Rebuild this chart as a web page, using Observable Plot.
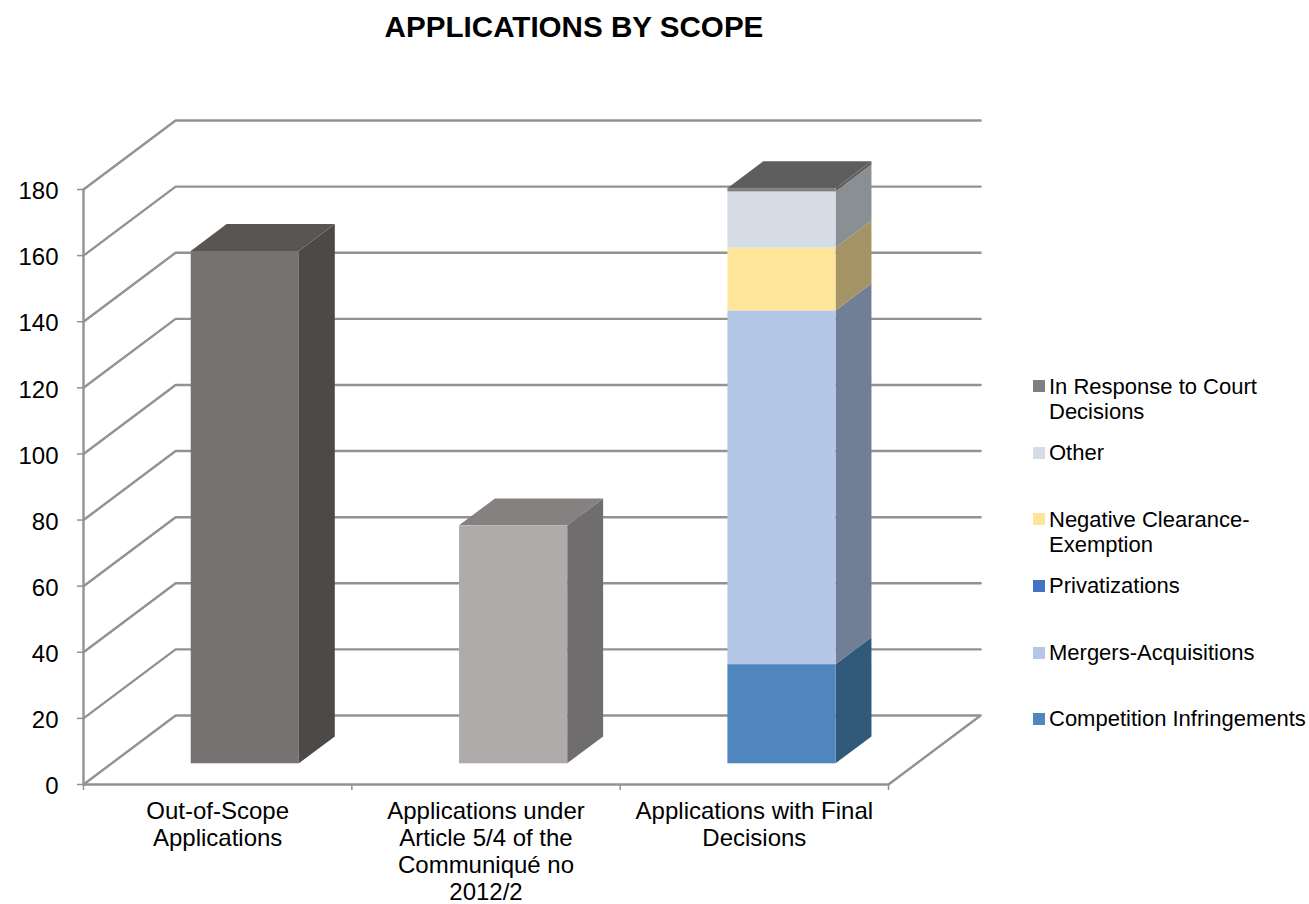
<!DOCTYPE html>
<html>
<head>
<meta charset="utf-8">
<script src="https://cdn.jsdelivr.net/npm/d3@7"></script>
<script src="https://cdn.jsdelivr.net/npm/@observablehq/plot@0.6"></script>
<style>
  html, body { margin: 0; background: #fff; }
  #chart { position: relative; width: 1309px; height: 904px; overflow: hidden; font-family: "Liberation Sans", Arial, sans-serif; }
  #title { position: absolute; left: 274px; width: 600px; top: 11px; text-align: center; font-weight: bold; font-size: 29.6px; line-height: 32px; color: #000; }
  .lg { position: absolute; left: 1033px; width: 276px; }
  .lg i { position: absolute; left: 0; width: 12px; height: 12px; }
  .lg span { position: absolute; left: 16px; top: 0; font-size: 22px; line-height: 25px; color: #000; white-space: pre; }
</style>
</head>
<body>
<div id="chart"><div id="title">APPLICATIONS BY SCOPE</div></div>
<script>
// ---- data ----
const categories = ["Out-of-Scope\nApplications", "Applications under\nArticle 5/4 of the\nCommuniqué no\n2012/2", "Applications with Final\nDecisions"];
const yTicks = [0, 20, 40, 60, 80, 100, 120, 140, 160, 180];
const outOfScope = [155];
const article54 = [72];
const seriesNames = ["Competition Infringements", "Mergers-Acquisitions", "Privatizations", "Negative Clearance-Exemption", "Other", "In Response to Court Decisions"];
const finalDecisions = [30, 107, 0, 19, 17, 1];

// ---- styles (separate from values) ----
const seriesFront = ["#4F86BD", "#B4C7E7", "#4472C4", "#FFE599", "#D6DCE5", "#7F7F7F"];
const seriesSide = ["#30597A", "#717F96", "#2E4C80", "#A39365", "#8A8F94", "#5F5F5F"];
const legendLabels = ["Competition Infringements", "Mergers-Acquisitions", "Privatizations", "Negative Clearance-\nExemption", "Other", "In Response to Court\nDecisions"];
const legendTops = [713, 647, 580, 513, 447, 380];
const legendTextShift = [-7, -7, -7, -6, -7, -6];
const grid = "#929292";

// Oblique-projection constants, in scale units per unit of depth
const depthX = 92 / 268, depthY = 69 / 3.306;
const zFront = 0.30, zBack = 0.69, halfBar = 0.2015;
const px = (x, z) => x + z * depthX;
const py = (v, z) => v + z * depthY;

// ---- faces built from the values ----
const segments = [];
outOfScope.forEach(v => segments.push({cat: 0, y0: 0, y1: v, front: "#767271", side: "#4D4947", top: "#595553"}));
article54.forEach(v => segments.push({cat: 1, y0: 0, y1: v, front: "#AFABAB", side: "#6F6D6D", top: "#848180"}));
let acc = 0;
finalDecisions.forEach((v, i) => {
  segments.push({cat: 2, y0: acc, y1: acc + v, front: seriesFront[i], side: seriesSide[i], top: "#5E5E5E"});
  acc += v;
});
const nonEmpty = segments.filter(s => s.y1 > s.y0);
const lastOf = c => nonEmpty.filter(s => s.cat === c).slice(-1)[0];
const tops = [0, 1, 2].map(lastOf);

const sideRows = nonEmpty.flatMap((s, i) => [zFront, zBack].map(z => {
  const x = px(s.cat + 0.5 + halfBar, z);
  return {id: i, x1: x, x2: x, y1: py(s.y0, z), y2: py(s.y1, z), fill: s.side};
}));
const topRows = tops.flatMap((s, i) => [zFront, zBack].map(z => {
  const y = py(s.y1, z);
  return {id: i, x1: px(s.cat + 0.5 - halfBar, z), x2: px(s.cat + 0.5 + halfBar, z), y1: y, y2: y, fill: s.top};
}));
const frontRows = nonEmpty.map(s => ({
  x1: px(s.cat + 0.5 - halfBar, zFront), x2: px(s.cat + 0.5 + halfBar, zFront),
  y1: py(s.y0, zFront), y2: py(s.y1, zFront), fill: s.front
}));

// ---- walls and floor ----
const wallRows = yTicks.slice(1).flatMap(v => [[0, 0], [0, 1], [3, 1]].map(([x, z]) => ({id: v, x: px(x, z), y: py(v, z)})));
const floorRows = [[0, 0], [0, 1], [3, 1], [3, 0], [0, 0]].map(([x, z]) => ({id: 0, x: px(x, z), y: py(0, z)}));
const frontAxis = [{id: "a", x: 0, y: 0}, {id: "a", x: 0, y: 180}];

const chart = Plot.plot({
  width: 1309,
  height: 904,
  marginLeft: 83,
  marginRight: 421,
  marginTop: 189,
  marginBottom: 120,
  style: {background: "transparent", fontFamily: '"Liberation Sans", Arial, sans-serif', overflow: "visible", color: "#000"},
  x: {domain: [0, 3]},
  y: {domain: [0, 180]},
  marks: [
    Plot.line(wallRows, {x: "x", y: "y", z: "id", stroke: grid, strokeWidth: 2.4}),
    Plot.line(floorRows, {x: "x", y: "y", z: "id", stroke: grid, strokeWidth: 2.4}),
    Plot.line(frontAxis, {x: "x", y: "y", z: "id", stroke: grid, strokeWidth: 2.4}),
    Plot.axisY({ticks: yTicks, tickSize: 6, tickFormat: () => "", stroke: grid, strokeWidth: 1.5, label: null}),
    Plot.axisY({ticks: yTicks, tickSize: 0, tickPadding: 25, dy: 2, fontSize: 24, fill: "#000", label: null}),
    Plot.axisX({ticks: [0, 1, 2, 3], tickSize: 6, tickFormat: () => "", stroke: grid, strokeWidth: 1.5, label: null}),
    Plot.axisX({ticks: [0.5, 1.5, 2.5], tickSize: 0, tickPadding: 15, fontSize: 24, lineHeight: 1.125, fill: "#000", tickFormat: d => categories[Math.floor(d)], label: null, textOverflow: null}),
    Plot.area(sideRows, {x1: "x1", x2: "x2", y1: "y1", y2: "y2", z: "id", fill: "fill"}),
    Plot.area(topRows, {x1: "x1", x2: "x2", y1: "y1", y2: "y2", z: "id", fill: "fill"}),
    Plot.rect(frontRows, {x1: "x1", x2: "x2", y1: "y1", y2: "y2", fill: "fill"})
  ]
});
const root = document.getElementById("chart");
root.insertBefore(chart, root.firstChild);

// ---- legend ----
seriesNames.forEach((name, i) => {
  const row = document.createElement("div");
  row.className = "lg";
  row.style.top = legendTops[i] + "px";
  const sw = document.createElement("i");
  sw.style.background = seriesFront[i];
  sw.style.top = "0px";
  const tx = document.createElement("span");
  tx.textContent = legendLabels[i];
  tx.style.top = legendTextShift[i] + "px";
  row.append(sw, tx);
  root.appendChild(row);
});
</script>
</body>
</html>
